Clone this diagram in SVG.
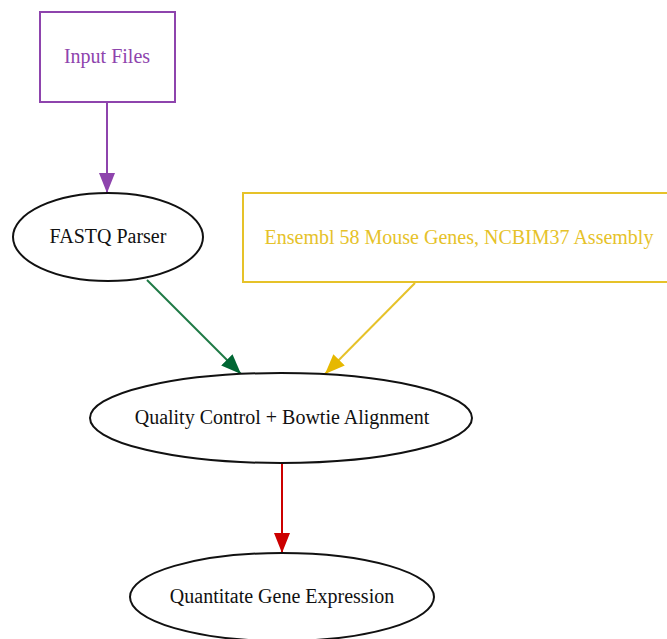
<svg xmlns="http://www.w3.org/2000/svg" width="667" height="639" viewBox="0 0 667 639">
<style>
text{font-family:"Liberation Serif","Times New Roman",serif;font-size:20px;text-anchor:middle}
.ell{fill:#fff;stroke:#111;stroke-width:2}
.edge{fill:none;stroke-width:2}
</style>
<defs>
<marker id="mP" markerUnits="userSpaceOnUse" markerWidth="20" markerHeight="18" refX="20" refY="9" orient="auto"><path d="M0,1 L20,9 L0,17 Z" fill="#8e44ad"/></marker>
<marker id="mG" markerUnits="userSpaceOnUse" markerWidth="20" markerHeight="18" refX="20" refY="9" orient="auto"><path d="M0,1 L20,9 L0,17 Z" fill="#006633"/></marker>
<marker id="mY" markerUnits="userSpaceOnUse" markerWidth="20" markerHeight="18" refX="20" refY="9" orient="auto"><path d="M0,1 L20,9 L0,17 Z" fill="#e6b800"/></marker>
<marker id="mR" markerUnits="userSpaceOnUse" markerWidth="20" markerHeight="18" refX="20" refY="9" orient="auto"><path d="M0,1 L20,9 L0,17 Z" fill="#cc0000"/></marker>
</defs>
<rect width="667" height="639" fill="#fff"/>
<g id="connectors">
<line class="edge" x1="107" y1="102" x2="107" y2="193" stroke="#8e44ad" marker-end="url(#mP)"/>
<line class="edge" x1="147" y1="280" x2="241" y2="374" stroke="#1e7a45" marker-end="url(#mG)"/>
<line class="edge" x1="415" y1="283" x2="325" y2="374" stroke="#e6c229" marker-end="url(#mY)"/>
<line class="edge" x1="282" y1="463" x2="282" y2="553" stroke="#cc0000" marker-end="url(#mR)"/>
</g>
<g id="input-files">
<rect x="40" y="12" width="135" height="90" fill="#fff" stroke="#8e44ad" stroke-width="2"/>
<text x="107" y="63" fill="#8e44ad">Input Files</text>
</g>
<g id="fastq-parser">
<ellipse class="ell" cx="108" cy="237" rx="95" ry="44"/>
<text x="108" y="243" fill="#111">FASTQ Parser</text>
</g>
<g id="ensembl">
<rect x="243" y="193" width="430" height="89" fill="#fff" stroke="#e6c229" stroke-width="2"/>
<text x="459" y="244" fill="#e6c229">Ensembl 58 Mouse Genes, NCBIM37 Assembly</text>
</g>
<g id="qc-bowtie">
<ellipse class="ell" cx="281" cy="418" rx="191" ry="45"/>
<text x="282" y="424" fill="#111">Quality Control + Bowtie Alignment</text>
</g>
<g id="quantitate">
<ellipse class="ell" cx="282" cy="597" rx="152" ry="44"/>
<text x="282" y="603" fill="#111">Quantitate Gene Expression</text>
</g>
</svg>
